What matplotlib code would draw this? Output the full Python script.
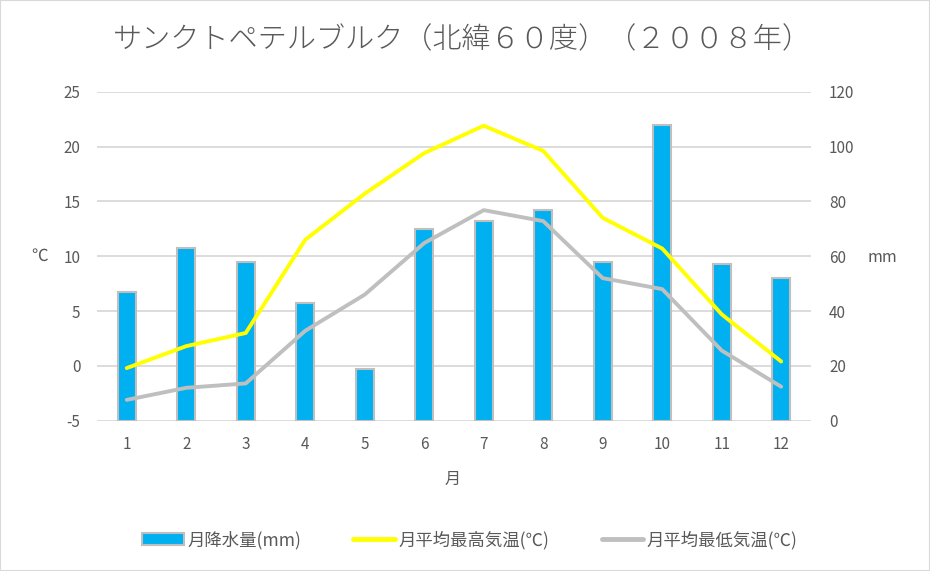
import matplotlib.pyplot as plt
from matplotlib.patches import Rectangle, Patch
from matplotlib.lines import Line2D

plt.rcParams['font.family'] = ['Noto Sans CJK JP', 'DejaVu Sans']
plt.rcParams['axes.unicode_minus'] = False

months = [1, 2, 3, 4, 5, 6, 7, 8, 9, 10, 11, 12]
rain_mm = [47, 63, 58, 43, 19, 70, 73, 77, 58, 108, 57, 52]
max_temp = [-0.2, 1.8, 3.0, 11.5, 15.7, 19.4, 21.9, 19.6, 13.5, 10.7, 4.7, 0.4]
min_temp = [-3.1, -2.0, -1.6, 3.2, 6.5, 11.2, 14.2, 13.2, 8.0, 7.0, 1.4, -1.9]

txt = '#595959'
grid = '#d9d9d9'

fig = plt.figure(figsize=(9.30, 5.71), dpi=100)
ax = fig.add_axes([0.1043, 0.2632, 0.7677, 0.5762])
ax2 = ax.twinx()

# bars on the right (mm) axis, drawn underneath the temperature lines
ax.set_zorder(ax2.get_zorder() + 1)
ax.patch.set_visible(False)

ax2.bar(months, rain_mm, width=0.3, color='#00b0f0', edgecolor='#bfbfbf', linewidth=1.5, zorder=2)
ax2.set_ylim(0, 120)
ax2.set_yticks(range(0, 121, 20))
ax2.yaxis.grid(True, color=grid, linewidth=1.3)
ax2.set_axisbelow(True)

ax.plot(months, max_temp, color='#ffff00', linewidth=2.8, solid_capstyle='round')
ax.plot(months, min_temp, color='#bfbfbf', linewidth=2.8, solid_capstyle='round')
ax.set_ylim(-5, 25)
ax.set_yticks(range(-5, 26, 5))
ax.set_xlim(0.5, 12.5)
ax.set_xticks(months)

for a in (ax, ax2):
    for s in a.spines.values():
        s.set_visible(False)
    a.tick_params(length=0, colors=txt, labelsize=11)
ax.tick_params(axis='y', pad=12)
ax.tick_params(axis='x', pad=11)
ax2.tick_params(axis='y', pad=13)

fig.text(40 / 930, 1 - 256 / 571, '℃', color=txt, fontsize=12, ha='center', va='center')
fig.text(882 / 930, 1 - 258 / 571, 'mm', color=txt, fontsize=11.5, ha='center', va='center')
fig.text(453 / 930, 1 - 479 / 571, '月', color=txt, fontsize=11.5, ha='center', va='center')

fig.text(462 / 930, 1 - 40 / 571, 'サンクトペテルブルク（北緯６０度）（２００８年）',
         color=txt, fontsize=21, fontweight='light', ha='center', va='center')

handles = [
    Patch(facecolor='#00b0f0', edgecolor='#bfbfbf', linewidth=1.5),
    Line2D([], [], color='#ffff00', linewidth=3.5, solid_capstyle='round'),
    Line2D([], [], color='#bfbfbf', linewidth=3.5, solid_capstyle='round'),
]
labels = ['月降水量(mm)', '月平均最高気温(℃)', '月平均最低気温(℃)']
fig.legend(handles, labels, loc='center', bbox_to_anchor=(470 / 930, 1 - 540 / 571), ncol=3,
           frameon=False, fontsize=12.5, labelcolor=txt, handlelength=2.4,
           handletextpad=0.2, columnspacing=3.0)

fig.patches.append(Rectangle((0, 0), 1, 1, transform=fig.transFigure, fill=False,
                             edgecolor=grid, linewidth=1.5))

fig.savefig('out.png', dpi=100)
